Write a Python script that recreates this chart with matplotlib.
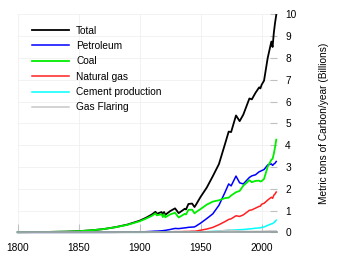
import numpy as np
import matplotlib.pyplot as plt

plt.rcParams['font.family'] = ['Liberation Sans', 'DejaVu Sans']

# years and emissions (billion metric tons of carbon per year)
years = [1800, 1810, 1820, 1830, 1840, 1850, 1860, 1870, 1880, 1890,
         1900, 1905, 1910, 1913, 1914, 1918, 1919, 1920, 1921, 1925,
         1929, 1932, 1937, 1938, 1940, 1943, 1945, 1946, 1950, 1955,
         1960, 1965, 1970, 1973, 1975, 1979, 1982, 1985, 1990, 1992,
         1995, 1998, 1999, 2000, 2002, 2005, 2008, 2009, 2010, 2011, 2012]
total = [0.008, 0.010, 0.014, 0.024, 0.033, 0.054, 0.091, 0.147, 0.236, 0.356,
         0.534, 0.663, 0.819, 0.943, 0.850, 0.930, 0.810, 0.932, 0.803, 0.973,
         1.100, 0.881, 1.080, 1.050, 1.300, 1.320, 1.160, 1.250, 1.630, 2.050,
         2.577, 3.130, 4.053, 4.620, 4.600, 5.360, 5.100, 5.400, 6.140, 6.100,
         6.400, 6.650, 6.600, 6.765, 6.960, 8.000, 8.750, 8.500, 9.140, 9.600, 9.970]
petroleum = [0, 0, 0, 0, 0, 0, 0, 0.001, 0.003, 0.008,
             0.016, 0.029, 0.044, 0.055, 0.055, 0.070, 0.075, 0.085, 0.090, 0.130,
             0.180, 0.170, 0.205, 0.210, 0.230, 0.240, 0.250, 0.280, 0.423, 0.630,
             0.849, 1.240, 1.839, 2.220, 2.130, 2.580, 2.270, 2.220, 2.520, 2.590,
             2.640, 2.780, 2.800, 2.830, 2.880, 3.090, 3.140, 3.070, 3.130, 3.170, 3.250]
coal = [0.008, 0.010, 0.014, 0.024, 0.033, 0.054, 0.091, 0.146, 0.233, 0.345,
        0.507, 0.623, 0.756, 0.868, 0.778, 0.830, 0.700, 0.830, 0.690, 0.820,
        0.900, 0.680, 0.850, 0.820, 1.030, 1.040, 0.870, 0.920, 1.070, 1.270,
        1.410, 1.470, 1.570, 1.590, 1.690, 1.840, 1.900, 2.140, 2.390, 2.300,
        2.360, 2.370, 2.330, 2.350, 2.450, 3.010, 3.330, 3.370, 3.600, 3.900, 4.250]
natural_gas = [0, 0, 0, 0, 0, 0, 0, 0, 0, 0.003,
               0.003, 0.007, 0.012, 0.013, 0.013, 0.014, 0.014, 0.015, 0.015, 0.020,
               0.033, 0.030, 0.040, 0.040, 0.040, 0.050, 0.050, 0.055, 0.097, 0.150,
               0.227, 0.350, 0.493, 0.590, 0.620, 0.760, 0.730, 0.800, 1.010, 1.030,
               1.110, 1.190, 1.200, 1.290, 1.330, 1.480, 1.610, 1.560, 1.700, 1.760, 1.850]
cement = [0, 0, 0, 0, 0, 0, 0, 0, 0, 0,
          0, 0, 0.005, 0.006, 0.005, 0.005, 0.005, 0.006, 0.006, 0.008,
          0.010, 0.008, 0.012, 0.012, 0.013, 0.012, 0.010, 0.012, 0.018, 0.030,
          0.043, 0.060, 0.078, 0.095, 0.100, 0.115, 0.120, 0.130, 0.157, 0.165,
          0.190, 0.200, 0.205, 0.226, 0.245, 0.320, 0.385, 0.400, 0.445, 0.490, 0.560]
gas_flaring = [0, 0, 0, 0, 0, 0, 0, 0, 0, 0,
               0, 0, 0, 0, 0, 0, 0, 0, 0, 0.003,
               0.005, 0.005, 0.007, 0.007, 0.008, 0.010, 0.010, 0.012, 0.023, 0.030,
               0.039, 0.055, 0.087, 0.110, 0.090, 0.080, 0.060, 0.050, 0.040, 0.040,
               0.045, 0.045, 0.045, 0.045, 0.048, 0.060, 0.066, 0.060, 0.065, 0.065, 0.065]

fig = plt.figure(figsize=(3.5, 2.63), dpi=100)
ax = fig.add_axes([0.0506, 0.1166, 0.7404, 0.829])

ax.plot(years, total, color='black', lw=1.3, label='Total', clip_on=False)
ax.plot(years, petroleum, color='#0000ff', lw=1.1, label='Petroleum', clip_on=False)
ax.plot(years, coal, color='#00ee00', lw=1.3, label='Coal', clip_on=False)
ax.plot(years, natural_gas, color='#ff2020', lw=1.1, label='Natural gas', clip_on=False)
ax.plot(years, cement, color='#00ffff', lw=1.1, label='Cement production', clip_on=False)
ax.plot(years, gas_flaring, color='#c8c8c8', lw=1.1, label='Gas Flaring', clip_on=False)

ax.set_xlim(1800, 2012.5)
ax.set_ylim(0, 10)
ax.set_xticks([1800, 1850, 1900, 1950, 2000])
ax.set_yticks(range(0, 11))
ax.yaxis.tick_right()
ax.yaxis.set_label_position('right')
ax.tick_params(axis='y', direction='in', length=5, color='#c0c0c0', labelsize=7.3, pad=6)
ax.tick_params(axis='x', direction='in', length=6, color='#c0c0c0', labelsize=7.3, pad=8)
ax.grid(color='#f0f0f0', lw=0.6)
ax.set_axisbelow(True)
for s in ['top', 'left', 'right']:
    ax.spines[s].set_visible(False)
ax.spines['bottom'].set_color('#909c9c')
ax.spines['bottom'].set_linewidth(1.2)
ax.set_ylabel('Metric tons of Carbon/year (Billions)', fontsize=7.3, labelpad=16)

ax.legend(loc='upper left', bbox_to_anchor=(0.02, 0.99), frameon=False, fontsize=7.3,
          handlelength=3.6, handletextpad=0.76, labelspacing=0.53)

plt.savefig('out.png', dpi=100)
